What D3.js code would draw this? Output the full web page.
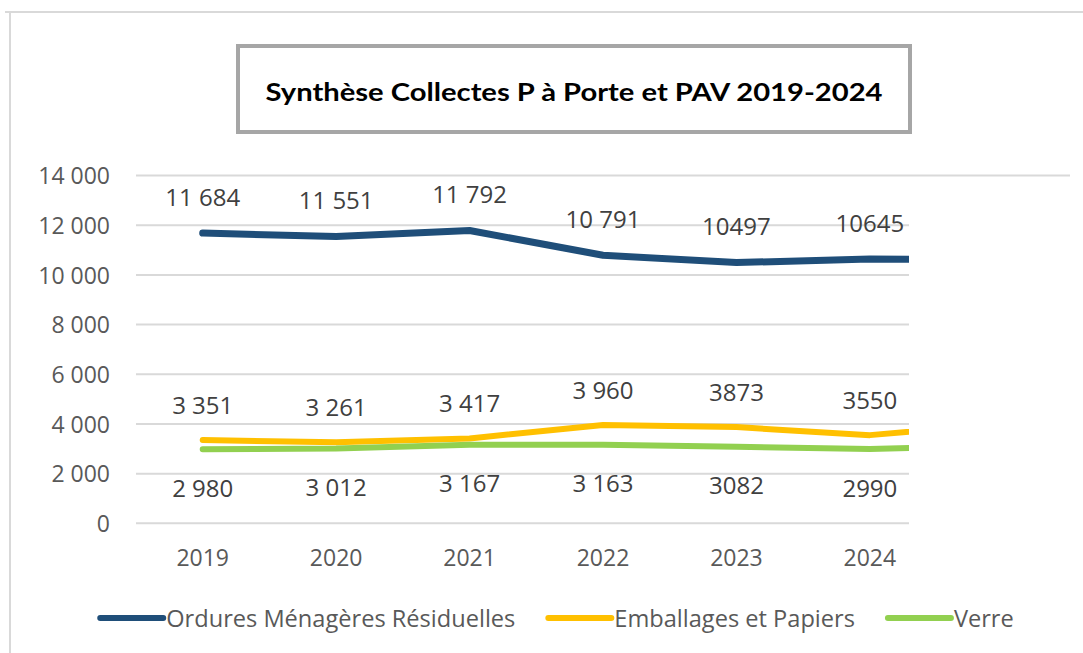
<!DOCTYPE html>
<html><head><meta charset="utf-8">
<script src="https://cdn.jsdelivr.net/npm/d3@7"></script>
<style>
html,body{margin:0;padding:0;background:#fff;}
svg{display:block;}
</style></head>
<body>
<svg id="chart" width="1083" height="653"></svg>
<script>
// ---- data ----
const categories = ["2019","2020","2021","2022","2023","2024","2025"];
const axisYears = ["2019","2020","2021","2022","2023","2024"];
const omr   = [11684, 11551, 11792, 10791, 10497, 10645, 10600];
const emb   = [3351, 3261, 3417, 3960, 3873, 3550, 4020];
const verre = [2980, 3012, 3167, 3163, 3082, 2990, 3130];
const groupedLabel = [true, true, true, true, false, false, false];
const yTicks = [0, 2000, 4000, 6000, 8000, 10000, 12000, 14000];
const seriesNames = ["Ordures Ménagères Résiduelles", "Emballages et Papiers", "Verre"];
const titleText = "Synthèse Collectes P à Porte et PAV 2019-2024";

const colors = ["#1f4e79", "#ffc000", "#92d050"];
const widths = [7, 6, 6];
const labelOffset = [-36, -35, 39];

const svg = d3.select("#chart");
const W = 1083, H = 653;

const fr = d3.formatLocale({decimal: ",", thousands: "\u00a0", grouping: [3], currency: ["", " €"]});
const fmtGrouped = fr.format(",d");
const fmtPlain = d3.format("d");

const x = d3.scaleBand().domain(categories).range([136, 1070]).paddingInner(0).paddingOuter(0);
const y = d3.scaleLinear().domain([0, 14000]).range([523.3, 175.6]);
const cx = c => x(c) + x.bandwidth() / 2;

// outer border (top and left)
svg.append("path").attr("d", `M5,12 H${W} M10,12 V${H}`)
  .attr("fill", "none").attr("stroke", "#d9d9d9").attr("stroke-width", 2);

// clip: full width on the top strip, cut at 909 below
const defs = svg.append("defs");
defs.append("clipPath").attr("id", "plotclip")
  .append("path").attr("d", `M0,0 H${W} V180 H909 V${H} H0 Z`);

// gridlines
const grid = svg.append("g").attr("clip-path", "url(#plotclip)");
grid.selectAll("line").data(yTicks).join("line")
  .attr("x1", x.range()[0]).attr("x2", x.range()[1])
  .attr("y1", d => y(d)).attr("y2", d => y(d))
  .attr("stroke", "#d9d9d9").attr("stroke-width", 2);

// y axis labels
const yAxis = d3.axisLeft(y).tickValues(yTicks).tickFormat(fmtGrouped).tickSize(0).tickPadding(0);
const gy = svg.append("g").attr("transform", "translate(110,0)").call(yAxis);
gy.select(".domain").remove();
gy.selectAll("text").attr("font-family", "'Open Sans', sans-serif").attr("font-size", 23)
  .attr("fill", "#595959").attr("dy", "0.36em");

// x axis labels
const xAxis = d3.axisBottom(x).tickValues(axisYears).tickSize(0).tickPadding(0);
const gx = svg.append("g").attr("transform", "translate(0,558)").call(xAxis);
gx.select(".domain").remove();
gx.selectAll("text").attr("font-family", "'Open Sans', sans-serif").attr("font-size", 23)
  .attr("fill", "#595959").attr("dy", "0.36em");

// lines
const series = [omr, emb, verre];
const line = d3.line().x((d, i) => cx(categories[i])).y(d => y(d));
const lines = svg.append("g").attr("clip-path", "url(#plotclip)");
series.forEach((s, k) => {
  lines.append("path").datum(s).attr("d", line)
    .attr("fill", "none").attr("stroke", colors[k]).attr("stroke-width", widths[k])
    .attr("stroke-linejoin", "round").attr("stroke-linecap", "round");
});

// data labels
const labels = svg.append("g");
series.forEach((s, k) => {
  s.forEach((v, i) => {
    if (!axisYears.includes(categories[i])) return;
    labels.append("text")
      .attr("x", cx(categories[i])).attr("y", y(v) + labelOffset[k]).attr("dy", "0.36em")
      .attr("text-anchor", "middle")
      .attr("font-family", "'Open Sans', sans-serif").attr("font-size", 24).attr("fill", "#404040")
      .text(groupedLabel[i] ? fmtGrouped(v) : fmtPlain(v));
  });
});

// title box
svg.append("rect").attr("x", 238).attr("y", 46).attr("width", 672).attr("height", 86)
  .attr("fill", "#fff").attr("stroke", "#a6a6a6").attr("stroke-width", 4);
svg.append("text").attr("x", 574).attr("y", 101).attr("text-anchor", "middle")
  .attr("font-family", "Lato, 'Open Sans', sans-serif").attr("font-weight", "bold").attr("font-size", 25)
  .attr("fill", "#000").attr("textLength", 617).attr("lengthAdjust", "spacingAndGlyphs")
  .text(titleText);

// legend
const legend = svg.append("g").attr("transform", "translate(0,618)");
const items = legend.selectAll("g").data(seriesNames).join("g");
items.append("line").attr("x1", 0).attr("x2", 63).attr("y1", 0).attr("y2", 0)
  .attr("stroke", (d, i) => colors[i]).attr("stroke-width", 6).attr("stroke-linecap", "round");
items.append("text").attr("x", 66).attr("dy", "0.36em")
  .attr("font-family", "'Open Sans', sans-serif").attr("font-size", 23.6).attr("fill", "#595959")
  .text(d => d);
let cur = 0; const offs = [];
items.each(function() {
  const w = 66 + this.querySelector("text").getComputedTextLength();
  offs.push(cur); cur += w + 33;
});
const total = cur - 33;
const start = 557 - total / 2;
items.attr("transform", (d, i) => `translate(${start + offs[i]},0)`);
</script>
</body></html>
